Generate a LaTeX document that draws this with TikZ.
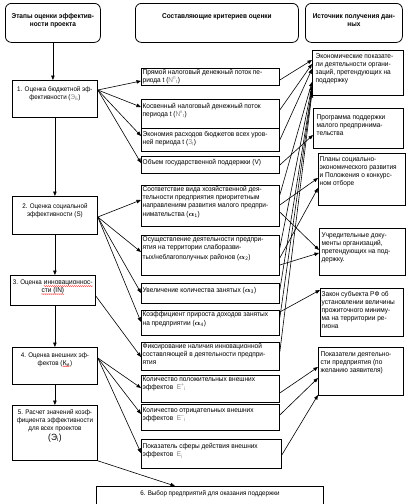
\documentclass[tikz,border=0pt]{standalone}
\usepackage{fontspec}
\setmainfont{Liberation Sans}[FakeStretch=0.93]
\usetikzlibrary{arrows.meta,decorations.pathmorphing}

\newcommand{\redwave}[1]{\tikz[baseline=(w.base)]{\node[inner sep=0pt] (w) {#1};
  \draw[red, line width=0.3pt, decorate, decoration={snake,amplitude=0.5pt,segment length=2pt}]
    ([yshift=-1.2pt]w.base west) -- ([yshift=-1.2pt]w.base east);}}
\newcommand{\fml}[1]{\textcolor{gray}{#1}}
\newcommand{\alf}[1]{{\boldmath$\alpha$}\textsubscript{#1}}

\begin{document}
\begin{tikzpicture}[
  x=1pt, y=-1pt,
  every node/.style={font=\fontsize{7}{8}\selectfont},
  head/.style={draw, line width=0.8pt, rounded corners=6pt, anchor=north west, inner sep=0pt},
  stagebox/.style={draw, line width=0.8pt, anchor=north west, inner sep=0pt},
  critbox/.style={draw, line width=0.8pt, anchor=north west, inner sep=0pt},
  txt/.style={anchor=north west, align=left, inner sep=1.5pt},
  ctxt/.style={anchor=north, align=center, inner sep=0pt, font=\fontsize{6.7}{8}\selectfont},
  arr/.style={line width=0.6pt, -{Triangle[length=4.5pt,width=3.5pt]}},
]
\useasboundingbox (0,0) rectangle (411,504);
%-------------------------------------------------------------
% headers
\node[head, minimum width=95pt, minimum height=39pt] (h1) at (5,3) {};
\node[ctxt, font=\fontsize{7}{8}\selectfont\bfseries] at ([yshift=-10pt]h1.north) {Этапы оценки эффектив-\\ности проекта};
\node[head, minimum width=163pt, minimum height=39pt] (h2) at (135,3) {};
\node[ctxt, font=\fontsize{7}{8}\selectfont\bfseries] at ([yshift=-10pt]h2.north) {Составляющие критериев оценки};
\node[head, minimum width=97pt, minimum height=39pt] (h3) at (305,3) {};
\node[ctxt, font=\fontsize{7}{8}\selectfont\bfseries] at ([yshift=-10pt]h3.north) {Источник получения дан-\\ных};

%============================================================
% stages
\node[stagebox, minimum width=85pt, minimum height=37pt] (s1) at (12,80) {};
\node[ctxt] at ([yshift=-6pt]s1.north) {1. Оценка бюджетной эф-\\фективности (\fml{Э\textsubscript{Б}})};
\node[stagebox, minimum width=85pt, minimum height=38pt] (s2) at (12,196) {};
\node[ctxt] at ([yshift=-7pt]s2.north) {2. Оценка социальной\\эффективности (S)};
\node[stagebox, minimum width=85pt, minimum height=30pt] (s3) at (10,275) {};
\node[ctxt] at ([yshift=-5pt]s3.north) {3. Оценка \redwave{инновационнос-}\\\redwave{сти (IN)}};
\node[stagebox, minimum width=85pt, minimum height=37pt] (s4) at (12,347) {};
\node[ctxt] at ([yshift=-5pt]s4.north) {4. Оценка внешних эф-\\фектов (\redwave{К\textsubscript{и}})};
\node[stagebox, minimum width=85pt, minimum height=55pt] (s5) at (12,405) {};
\node[ctxt] at ([yshift=-4pt]s5.north) {5. Расчет значений коэф-\\фициента эффективности\\для всех проектов\\[2pt]{\fontsize{9}{10}\selectfont(Э\textsubscript{i})}};
\node[stagebox, minimum width=227pt, minimum height=30pt] (s6) at (96,486) {};
\node[ctxt] at ([yshift=-4pt]s6.north) {6. Выбор предприятий для оказания поддержки};

%============================================================
% criteria
\node[critbox, minimum width=138pt, minimum height=17pt] (b1) at (141,68) {};
\node[txt] at ([yshift=0.5pt]b1.north west) {Прямой налоговый денежный поток пе-\\риода t (\fml{N\textsuperscript{п}\textsubscript{t}})};
\node[critbox, minimum width=138pt, minimum height=29pt] (b2) at (141,99) {};
\node[txt] at ([yshift=-3pt]b2.north west) {Косвенный налоговый денежный поток\\периода t (\fml{N\textsuperscript{к}\textsubscript{t}})};
\node[critbox, minimum width=138pt, minimum height=23pt] (b3) at (141,128) {};
\node[txt] at ([yshift=-2pt]b3.north west) {Экономия расходов бюджетов всех уров-\\ней периода t (\fml{З\textsubscript{t}})};
\node[critbox, minimum width=138pt, minimum height=17pt] (b4) at (141,156) {};
\node[txt] at ([yshift=-2pt]b4.north west) {Объем государственной поддержки (V)};
\node[critbox, minimum width=138pt, minimum height=41pt] (b5) at (141,185) {};
\node[txt] at (b5.north west) {Соответствие вида хозяйственной дея-\\тельности предприятия приоритетным\\направлениям развития малого предпри-\\[1pt]нимательства (\alf{1})};
\node[critbox, minimum width=138pt, minimum height=40pt] (b6) at (141,235) {};
\node[txt] at (b6.north west) {Осуществление деятельности предпри-\\ятия на территории слаборазви-\\[2pt]тых/неблагополучных районов (\alf{2})};
\node[critbox, minimum width=138pt, minimum height=20pt] (b7) at (141,283) {};
\node[txt] at ([yshift=-3pt]b7.north west) {Увеличение количества занятых (\alf{3})};
\node[critbox, minimum width=138pt, minimum height=25pt] (b8) at (141,310) {};
\node[txt] at (b8.north west) {Коэффициент прироста доходов занятых\\[1pt]на предприятии (\alf{4})};
\node[critbox, minimum width=138pt, minimum height=28pt] (b9) at (141,342) {};
\node[txt] at (b9.north west) {Фиксирование наличия инновационной\\составляющей в деятельности предпри-\\ятия};
\node[critbox, minimum width=138pt, minimum height=27pt] (b10) at (141,375) {};
\node[txt] at (b10.north west) {Количество положительных внешних\\эффектов \ \fml{E\textsuperscript{+}\textsubscript{i}}};
\node[critbox, minimum width=138pt, minimum height=26pt] (b11) at (141,404) {};
\node[txt] at ([yshift=-2pt]b11.north west) {Количество отрицательных внешних\\эффектов \ \fml{E\textsuperscript{--}\textsubscript{i}}};
\node[critbox, minimum width=140pt, minimum height=29pt] (b12) at (141,439) {};
\node[txt] at ([yshift=-3pt]b12.north west) {Показатель сферы действия внешних\\эффектов \ \fml{E\textsubscript{i}}};

%============================================================
% sources
\node[critbox, minimum width=91pt, minimum height=45pt] (r1) at (312,50) {};
\node[txt] at ([xshift=2pt,yshift=-2pt]r1.north west) {Экономические показате-\\ли деятельности органи-\\заций, претендующих на\\поддержку};
\node[critbox, minimum width=90pt, minimum height=40pt] (r2) at (313,108) {};
\node[txt] at ([xshift=2pt,yshift=-5pt]r2.north west) {Программа поддержки\\малого предпринима-\\тельства};
\node[critbox, minimum width=87pt, minimum height=52pt] (r3) at (318,153) {};
\node[txt] at ([yshift=-2pt]r3.north west) {Планы социально-\\экономического развития\\и Положения о конкурс-\\ном отборе};
\node[critbox, minimum width=86pt, minimum height=47pt] (r4) at (319,228) {};
\node[txt] at ([xshift=1pt,yshift=-3pt]r4.north west) {Учредительные доку-\\менты организаций,\\претендующих на под-\\держку.};
\node[critbox, minimum width=83pt, minimum height=48pt] (r5) at (320,288) {};
\node[txt] at ([yshift=-2pt]r5.north west) {Закон субъекта РФ об\\установлении величины\\прожиточного миниму-\\ма на территории ре-\\гиона};
\node[critbox, minimum width=85pt, minimum height=48pt] (r6) at (318,347) {};
\node[txt] at ([xshift=1pt,yshift=-3pt]r6.north west) {Показатели деятельно-\\сти предприятия (по\\желанию заявителя)};

%============================================================
% stage flow
\draw[arr] (h1.south) -- (h1.south |- s1.north);
\draw[arr] (s1.south) -- (s1.south |- s2.north);
\draw[arr] (s2.south) -- (s2.south |- s3.north);
\draw[arr] (s2.south |- s3.south) -- (s2.south |- s4.north);
\draw[arr] (s4.south) -- (s4.south |- s5.north);
\draw[arr] (s5.south east) -- ([xshift=79pt]s6.north west);

% stages -> criteria
\draw[arr] ([yshift=-10pt]s1.north east) -- ([yshift=-13pt]b1.north west);
\draw[arr] ([yshift=-10pt]s1.north east) -- ([yshift=-8pt]b2.north west);
\draw[arr] ([yshift=-10pt]s1.north east) -- ([yshift=-8pt]b3.north west);
\draw[arr] ([yshift=-10pt]s1.north east) -- ([yshift=-7pt]b4.north west);

\draw[arr] ([yshift=-21pt]s2.north east) -- ([yshift=-15pt]b5.north west);
\draw[arr] ([yshift=-21pt]s2.north east) -- ([yshift=-17pt]b6.north west);
\draw[arr] ([yshift=-21pt]s2.north east) -- ([yshift=-10pt]b7.north west);
\draw[arr] ([yshift=-21pt]s2.north east) -- ([yshift=-12pt]b8.north west);

\draw[arr] ([yshift=-21pt]s3.north east) -- ([yshift=-15pt]b9.north west);

\draw[arr] ([yshift=-11pt]s4.north east) -- ([yshift=-13pt]b10.north west);
\draw[arr] ([yshift=-11pt]s4.north east) -- ([yshift=-10pt]b11.north west);
\draw[arr] ([yshift=-11pt]s4.north east) -- ([yshift=-14pt]b12.north west);

% criteria -> sources
\draw[arr] ([yshift=-12pt]b1.north east) -- ([yshift=-10pt]r1.north west);
\draw[arr] ([yshift=-11pt]b2.north east) -- ([yshift=-14pt]r1.north west);
\draw[arr] ([yshift=-12pt]b3.north east) -- ([yshift=-19pt]r1.north west);
\draw[arr] ([yshift=-9pt]b4.north east) -- ([yshift=-27pt]r2.north west);

\draw[arr] ([yshift=-10pt]b5.north east) -- ([yshift=-32pt]r1.north west);
\draw[arr] ([yshift=-20pt]b5.north east) -- ([yshift=-25pt]r3.north west);
\draw[arr] ([yshift=-27pt]b5.north east) -- ([yshift=-22pt]r4.north west);
\draw[arr] ([yshift=-13pt]b6.north east) -- ([yshift=-36pt]r1.north west);
\draw[arr] ([yshift=-23pt]b6.north east) -- ([yshift=-35pt]r3.north west);
\draw[arr] ([yshift=-30pt]b6.north east) -- ([yshift=-25pt]r4.north west);
\draw[arr] ([yshift=-7pt]b7.north east) -- ([yshift=-39pt]r1.north west);
\draw[arr] ([yshift=-2pt]b8.north east) -- ([yshift=-2pt]r5.north west);
\draw[arr] ([yshift=-8pt]b8.north east) -- ([yshift=-41pt]r1.north west);
\draw[arr] ([yshift=-10pt]b9.north east) -- ([yshift=-43pt]r1.north west);

\draw[arr] ([yshift=-18pt]b10.north east) -- ([yshift=-20pt]r6.north west);
\draw[arr] ([yshift=-11pt]b11.north east) -- ([yshift=-31pt]r6.north west);
\draw[arr] ([yshift=-16pt]b12.north east) -- ([yshift=-48pt]r6.north west);

\end{tikzpicture}
\end{document}
